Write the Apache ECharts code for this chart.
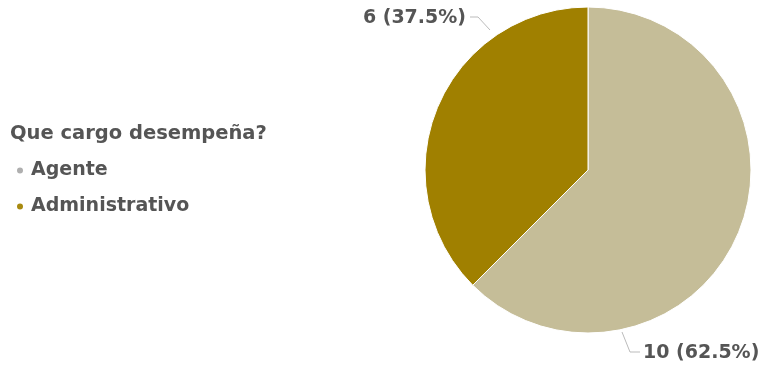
<!DOCTYPE html>
<html>
<head>
<meta charset="utf-8">
<script src="https://cdn.jsdelivr.net/npm/echarts@6/dist/echarts.min.js"></script>
<style>
  html, body { margin: 0; padding: 0; background: #fff; }
  #chart { width: 762px; height: 368px; }
</style>
</head>
<body>
<div id="chart"></div>
<script>
// datos del grafico
const legendTitle = 'Que cargo desempeña?'
const categories = ['Agente', 'Administrativo']
const counts = [10, 6]
const sliceColors = ['#C5BD98', '#A08000']
const legendColors = ['#AFAFAF', '#A88A10']

const total = counts.reduce((a, b) => a + b, 0)
const font = '"DejaVu Sans", "Open Sans", sans-serif'

const myChart = echarts.init(document.getElementById('chart'))

const option = {
  animation: false,
  title: {
    text: legendTitle,
    left: 5,
    top: 119,
    textStyle: { fontFamily: font, fontSize: 19.5, fontWeight: 'bold', color: '#555' }
  },
  legend: {
    orient: 'vertical',
    left: 10,
    top: 156,
    itemGap: 17,
    itemWidth: 8,
    itemHeight: 8,
    icon: 'circle',
    textStyle: { fontFamily: font, fontSize: 19, fontWeight: 'bold', color: '#555', padding: [0, 0, 0, 2] },
    data: categories.map((c, i) => ({ name: c, itemStyle: { color: legendColors[i] } }))
  },
  series: [
    {
      type: 'pie',
      center: [588, 170],
      radius: 163,
      startAngle: 90,
      clockwise: true,
      itemStyle: { borderColor: '#fff', borderWidth: 1 },
      label: {
        show: true,
        fontFamily: font,
        fontSize: 19,
        fontWeight: 'bold',
        color: '#555',
        overflow: 'none',
        formatter: (p) => p.value + ' (' + (p.value / total * 100).toFixed(1) + '%)'
      },
      labelLine: { show: true, lineStyle: { color: '#bbb', width: 1 } },
      labelLayout: function (params) {
        // colocar etiquetas como en el original
        if (params.dataIndex === 1) {
          return {
            x: 466, y: 18, align: 'right', verticalAlign: 'middle',
            labelLinePoints: [[490, 30], [478, 17], [470, 17]]
          }
        }
        return {
          x: 643, y: 353, align: 'left', verticalAlign: 'middle',
          labelLinePoints: [[622, 332], [630, 352], [640, 352]]
        }
      },
      data: categories.map((c, i) => ({ name: c, value: counts[i], itemStyle: { color: sliceColors[i] } }))
    }
  ]
}

myChart.setOption(option)
</script>
</body>
</html>
